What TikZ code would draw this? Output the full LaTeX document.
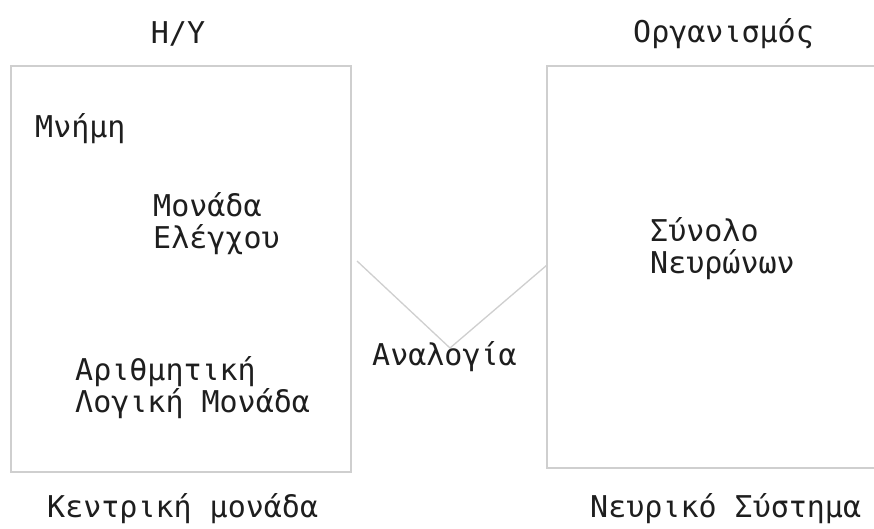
\documentclass[tikz,border=0pt]{standalone}
\usepackage{fontspec}
\newfontfamily\monogr{DejaVu Sans Mono}
\definecolor{boxgray}{HTML}{CFCFCF}
\definecolor{txt}{HTML}{1E1E1E}
\begin{document}
\begin{tikzpicture}[x=1pt,y=-1pt,
  lbl/.style={anchor=base west,inner sep=0pt,text=txt,align=left,
    font=\monogr\fontsize{30}{32}\selectfont},
  frame/.style={draw=boxgray,line width=1.5pt},
  link/.style={draw=boxgray,line width=1.3pt}]
\clip (0,0) rectangle (874,528);
\fill[white] (0,0) rectangle (874,528);
% boxes
\draw[frame] (11,66) rectangle (351,472);
\draw[frame] (547,66) rectangle (890,468);
% titles
\node[lbl,anchor=base] (hy) at (178,43) {H/Υ};
\node[lbl] (org) at (633,42) {Οργανισμός};
% left box contents
\node[lbl] (mem) at (35,137) {Μνήμη};
\node[lbl] (cu) at (153,248) {Μονάδα\\Ελέγχου};
\node[lbl] (alu) at (75,412) {Αριθμητική\\Λογική Μονάδα};
% right box contents
\node[lbl] (neur) at (650,273) {Σύνολο\\Νευρώνων};
% captions
\node[lbl] (cpu) at (47,517) {Κεντρική μονάδα};
\node[lbl] (ns) at (590,517) {Νευρικό Σύστημα};
% analogy
\coordinate (la) at (357,261);
\coordinate (apex) at (450,348);
\coordinate (ra) at (547,265);
\draw[link] (la) -- (apex) -- (ra);
\node[lbl] (an) at (372,365) {Αναλογία};
\end{tikzpicture}
\end{document}
